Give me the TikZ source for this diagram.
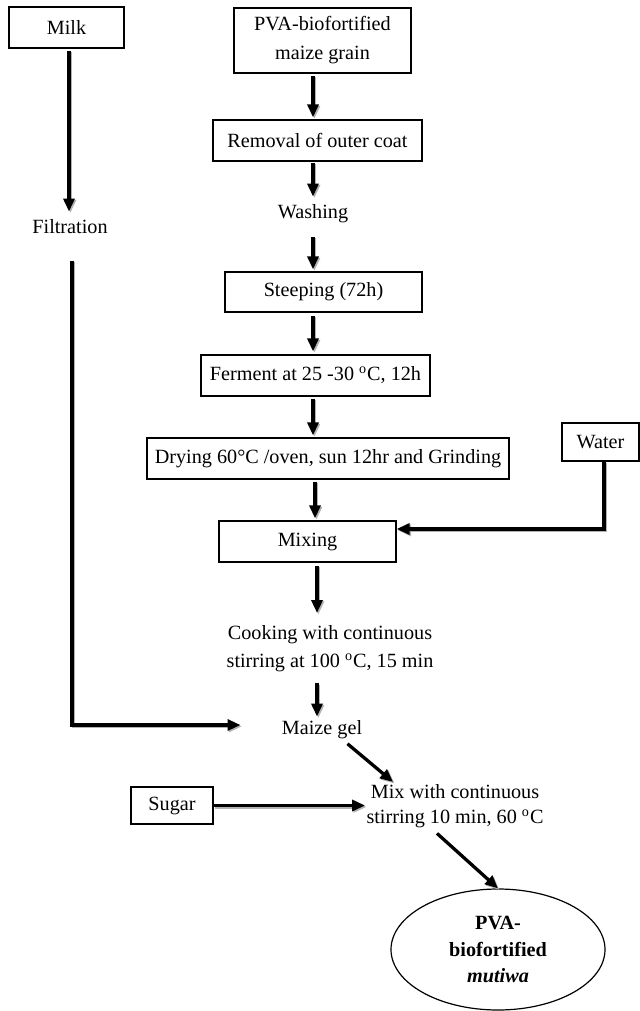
\documentclass[tikz,border=0pt]{standalone}
\usepackage{fontspec}
\setmainfont{Liberation Serif}
\usetikzlibrary{arrows.meta,shapes.geometric,calc}
\begin{document}
\begin{tikzpicture}[x=0.5pt,y=-0.5pt,
  every node/.style={font=\fontsize{10.1}{12}\selectfont, inner sep=0pt},
  box/.style={draw, line width=0.6pt, align=center},
  txt/.style={align=center},
  arr/.style={line width=1.6pt, -{Triangle[length=6.5pt,width=5.5pt]},
    preaction={draw=black!30, line width=1.6pt, -{Triangle[length=6.5pt,width=5.5pt]},
      transform canvas={shift={(0.7pt,-0.7pt)}}}},
  ]
\fill[white] (0,0) rectangle (639,1011);
\useasboundingbox (0,0) rectangle (639,1011);

% column coordinates
\coordinate (xM) at (69,0);
\coordinate (xL) at (72,0);
\coordinate (xA) at (313,0);
\coordinate (xB) at (315,0);
\coordinate (xC) at (317,0);
\coordinate (xW) at (604,0);
\coordinate (wc) at (0,529);
\coordinate (hz) at (0,725);

% nodes
\node[box, minimum width=57.5pt, minimum height=20.5pt] (milk) at (66.5,27.5) {Milk};
\node[txt, anchor=base] (filt) at (70,233) {Filtration};
\node[box, minimum width=88.5pt, minimum height=32.5pt,
  font=\fontsize{10.1}{14.5}\selectfont] (pva) at (322.5,40.5) {PVA-biofortified\\maize grain};
\node[box, minimum width=104.5pt, minimum height=20.5pt] (rem) at (317.5,140.5) {Removal of outer coat};
\node[txt, anchor=base] (wash) at (313,218) {Washing};
\node[box, minimum width=98.5pt, minimum height=20pt] (steep) at (323.5,292) {Steeping (72h)};
\node[box, minimum width=114.5pt, minimum height=20.5pt] (ferm) at (315.5,375.5) {Ferment at 25 -30 \textsuperscript{o}C, 12h};
\node[box, minimum width=181pt, minimum height=20.5pt] (dry) at (328,458.5) {Drying 60°C /oven, sun 12hr and Grinding};
\node[box, minimum width=38.5pt, minimum height=19pt] (water) at (600.5,442) {Water};
\node[box, minimum width=88.5pt, minimum height=20.5pt] (mixing) at (307.5,541.5) {Mixing};
\node[txt, anchor=north, font=\fontsize{10.1}{14}\selectfont] (cook) at (330,625)
  {Cooking with continuous\\stirring at 100 \textsuperscript{o}C, 15 min};
\node[txt, anchor=base] (gel) at (322,734) {Maize gel};
\node[box, minimum width=41pt, minimum height=18.5pt] (sugar) at (172,805.5) {Sugar};
\node[txt, anchor=north, font=\fontsize{10.1}{12.6}\selectfont] (mixt) at (455,784)
  {Mix with continuous\\stirring 10 min, 60 \textsuperscript{o}C};
\node[ellipse, draw, line width=0.6pt, align=center, minimum width=107pt, minimum height=60.5pt,
  font=\fontsize{10.1}{13.3}\selectfont\bfseries] (final) at (498,949.5)
  {PVA-\\biofortified\\\textit{mutiwa}};

% connectors
\draw[arr, shorten <=1pt, shorten >=3.5pt] (milk.south -| xM) -- (filt.north -| xM);
\draw[arr, shorten <=1pt, shorten >=1pt] (pva.south -| xA) -- (rem.north -| xA);
\draw[arr, shorten <=0.5pt, shorten >=3.5pt] (rem.south -| xA) -- (wash.north -| xA);
\draw[arr, shorten <=7pt, shorten >=1pt] (wash.south -| xA) -- (steep.north -| xA);
\draw[arr, shorten <=1.5pt, shorten >=1.5pt] (steep.south -| xA) -- (ferm.north -| xA);
\draw[arr, shorten <=1pt, shorten >=1pt] (ferm.south -| xA) -- (dry.north -| xA);
\draw[arr, shorten <=1pt, shorten >=1pt] (dry.south -| xB) -- (mixing.north -| xB);
\draw[arr] (water.south -| xW) -- (xW |- wc) -- (mixing.east |- wc);
\draw[arr, shorten <=1.5pt, shorten >=6pt] (mixing.south -| xC) -- (cook.north -| xC);
\draw[arr, shorten <=5.5pt, shorten >=1.5pt] (cook.south -| xC) -- (gel.north -| xC);
\draw[arr, shorten <=13.5pt, shorten >=20.5pt] (filt.south -| xL) -- (xL |- hz) -- (gel.west |- hz);
\draw[arr] ($(gel.south east)+(-15,5)$) -- ($(mixt.north west)+(27,-2)$);
\draw[arr, shorten >=0.5pt] (sugar.east) -- (sugar.east -| mixt.west);
\draw[arr] ($(mixt.south)+(-18,5)$) -- (final.north);
\end{tikzpicture}
\end{document}
